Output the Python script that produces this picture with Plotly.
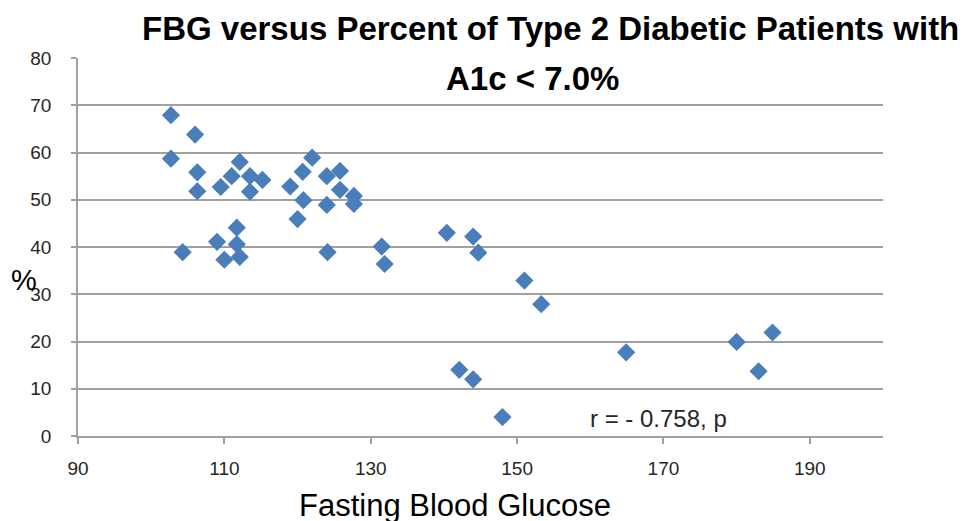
import plotly.graph_objects as go

# Fasting Blood Glucose (x) vs percent of patients with A1c < 7.0% (y)
fbg = [102.7, 102.7, 106.0, 106.3, 106.3, 104.3, 109.5, 111.0, 112.1, 113.5,
       113.5, 115.2, 109.0, 110.0, 111.7, 111.7, 112.1, 119.0, 120.7, 122.0,
       120.8, 120.0, 124.0, 125.8, 125.8, 127.7, 127.7, 124.0, 124.1, 131.5,
       131.9, 140.4, 144.0, 144.7, 151.0, 153.3, 142.1, 144.0, 148.0, 164.9,
       180.0, 184.9, 183.0]
pct = [67.9, 58.7, 63.8, 55.8, 51.8, 38.9, 52.7, 55.0, 58.0, 55.0,
       51.7, 54.2, 41.1, 37.3, 44.1, 40.6, 37.9, 52.8, 55.9, 58.9,
       49.9, 45.9, 55.0, 56.1, 52.1, 50.8, 49.1, 48.9, 38.9, 40.1,
       36.4, 43.0, 42.2, 38.8, 32.9, 27.9, 14.0, 12.0, 4.0, 17.7,
       19.9, 21.9, 13.7]

title_line1 = "FBG versus Percent of Type 2 Diabetic Patients with"
title_line2 = "A1c < 7.0%"
x_title = "Fasting Blood Glucose"
y_title = "%"
stat_text = "r = - 0.758, p"

FONT = "Liberation Sans, Arial, sans-serif"
BLUE = "#4A7EBB"
GRID = "#A0A0A0"
TXT = "#262626"

# plot-area box in page pixels (page has an 8px body margin)
OFF = 8
L, R, T, B = 77.5 - OFF, 883 - OFF, 58 - OFF, 436 - OFF
W, H = 966 - OFF, 521 - OFF
PW, PH = R - L, B - T


def px(xw):
    return (xw - OFF - L) / PW


def py(yw):
    return (B - (yw - OFF)) / PH


fig = go.Figure()
fig.add_trace(go.Scatter(
    x=fbg, y=pct, mode="markers",
    marker=dict(symbol="diamond", size=14, color=BLUE, line=dict(width=0)),
    showlegend=False, hoverinfo="x+y",
))

fig.update_layout(
    width=W, height=H,
    margin=dict(l=L, r=W - R, t=T, b=H - B, pad=0),
    paper_bgcolor="white", plot_bgcolor="white",
    font=dict(family=FONT, color=TXT),
    xaxis=dict(range=[90, 200], tick0=90, dtick=20, showgrid=False,
               showline=True, linecolor=GRID, linewidth=1.5,
               ticks="outside", ticklen=6, tickcolor=GRID, tickwidth=1.5,
               ticklabelstandoff=8,
               tickfont=dict(family=FONT, size=19, color=TXT),
               zeroline=False, fixedrange=True),
    yaxis=dict(range=[0, 80], tick0=0, dtick=10, showgrid=True,
               gridcolor=GRID, gridwidth=1.5,
               showline=True, linecolor=GRID, linewidth=1.5,
               ticks="outside", ticklen=5, tickcolor=GRID, tickwidth=1.5,
               ticklabelstandoff=16,
               tickfont=dict(family=FONT, size=19, color=TXT),
               zeroline=False, fixedrange=True),
    annotations=[
        dict(text="<b>" + title_line1 + "</b>", xref="paper", yref="paper",
             x=px(550), y=py(28), xanchor="center", yanchor="middle",
             showarrow=False, font=dict(family=FONT, size=33, color="#000000")),
        dict(text="<b>" + title_line2 + "</b>", xref="paper", yref="paper",
             x=px(532), y=py(78), xanchor="center", yanchor="middle",
             showarrow=False, font=dict(family=FONT, size=33, color="#000000")),
        dict(text=x_title, xref="paper", yref="paper",
             x=px(455), y=py(505), xanchor="center", yanchor="middle",
             showarrow=False, font=dict(family=FONT, size=31, color="#000000")),
        dict(text=y_title, xref="paper", yref="paper",
             x=px(23), y=py(280), xanchor="center", yanchor="middle",
             showarrow=False, font=dict(family=FONT, size=29, color="#000000")),
        dict(text=stat_text, xref="paper", yref="paper",
             x=px(588), y=py(418), xanchor="left", yanchor="middle",
             showarrow=False, font=dict(family=FONT, size=24, color=TXT)),
    ],
)

fig.write_html("out.html")
